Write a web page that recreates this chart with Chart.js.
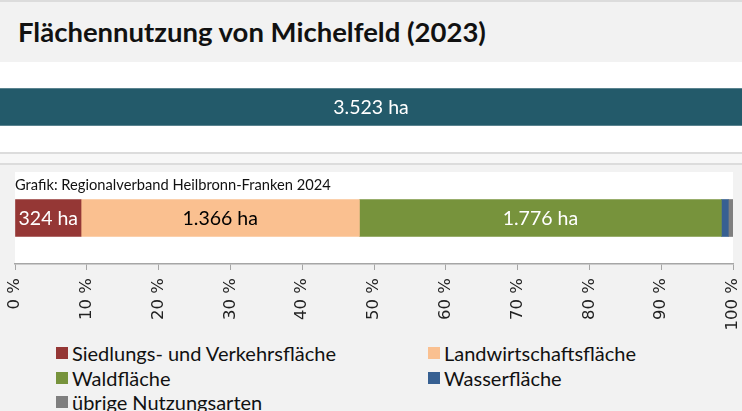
<!DOCTYPE html>
<html lang="de">
<head>
<meta charset="utf-8">
<title>Flächennutzung von Michelfeld (2023)</title>
<script src="https://cdn.jsdelivr.net/npm/chart.js@4/dist/chart.umd.min.js"></script>
<style>
  html, body { margin: 0; padding: 0; }
  body { width: 742px; height: 411px; background: #f2f2f2; position: relative; overflow: hidden; font-family: Lato, "Open Sans", sans-serif; }
  .head { position: absolute; left: 0; top: 0; width: 742px; height: 62px; border-top: 2px solid #dcdcdc; box-sizing: border-box; }
  .head h1 { position: absolute; left: 18px; top: 16px; margin: 0; font-size: 27.5px; line-height: 1; font-weight: 700; color: #111; }
  #totalBox { position: absolute; left: 0; top: 62px; width: 742px; height: 90px; background: #fff; }
  .rule { position: absolute; left: 0; width: 742px; height: 2px; background: #dcdcdc; }
  .gap { position: absolute; left: 0; top: 154px; width: 742px; height: 9px; background: #f7f7f7; }
  #mainBox { position: absolute; left: 0; top: 165px; width: 742px; height: 170px; }
  #legend { position: absolute; left: 56px; top: 341px; display: grid; grid-template-columns: 372px 250px; grid-auto-rows: 24.5px; font-size: 20px; color: #111; }
  #legend div { display: flex; align-items: center; white-space: nowrap; }
  #legend span { display: inline-block; width: 12px; height: 12px; margin-right: 4px; }
</style>
</head>
<body>
<div class="head"><h1>Flächennutzung von Michelfeld (2023)</h1></div>
<div id="totalBox"><canvas id="totalChart" width="742" height="90"></canvas></div>
<div class="rule" style="top:152px"></div>
<div class="gap"></div>
<div class="rule" style="top:163px"></div>
<div id="mainBox"><canvas id="mainChart" width="742" height="170"></canvas></div>
<div id="legend"></div>

<script>
// Flächen in ha (2023)
const categories = ['Siedlungs- und Verkehrsfläche', 'Landwirtschaftsfläche', 'Waldfläche', 'Wasserfläche', 'übrige Nutzungsarten'];
const areaHa = [324, 1366, 1776, 34, 23];
const colors = ['#953735', '#fac090', '#77933c', '#376092', '#7f7f7f'];
const labelColors = ['#fff', '#000', '#fff', null, null];
const totalHa = 3523;
const percentTicks = [0, 10, 20, 30, 40, 50, 60, 70, 80, 90, 100];
const sourceNote = 'Grafik: Regionalverband Heilbronn-Franken 2024';

const labelFont = '19.5px Lato, "Open Sans", sans-serif';

function formatHa(n) {
  return String(n).replace(/\B(?=(\d{3})+(?!\d))/g, '.') + ' ha';
}

// writes the ha value into the middle of each bar
const barLabels = {
  id: 'barLabels',
  afterDatasetsDraw(chart) {
    const ctx = chart.ctx;
    ctx.save();
    ctx.font = labelFont;
    ctx.textAlign = 'center';
    ctx.textBaseline = 'middle';
    chart.data.datasets.forEach((ds, i) => {
      if (!ds.labelColor) return;
      const bar = chart.getDatasetMeta(i).data[0];
      ctx.fillStyle = ds.labelColor;
      ctx.fillText(formatHa(ds.data[0]), (bar.x + bar.base) / 2, bar.y + 1);
    });
    ctx.restore();
  }
};

// white panel behind the stacked bar plus the source line
const panel = {
  id: 'panel',
  beforeDraw(chart) {
    const { ctx, chartArea: a } = chart;
    ctx.save();
    ctx.fillStyle = '#fff';
    ctx.fillRect(a.left, a.top, a.right - a.left, a.bottom - a.top);
    ctx.fillStyle = '#111';
    ctx.font = '14.7px Lato, "Open Sans", sans-serif';
    ctx.textBaseline = 'middle';
    ctx.fillText(sourceNote, a.left, a.top + 13);
    ctx.restore();
  }
};

new Chart(document.getElementById('totalChart'), {
  type: 'bar',
  data: {
    labels: ['Gesamt'],
    datasets: [{ data: [totalHa], backgroundColor: '#235a6a', borderWidth: 0, barThickness: 37, labelColor: '#fff' }]
  },
  options: {
    indexAxis: 'y',
    responsive: false,
    animation: false,
    layout: { padding: 0 },
    plugins: { legend: { display: false }, tooltip: { enabled: false } },
    scales: {
      x: { display: false, min: 0, max: totalHa },
      y: { display: false }
    }
  },
  plugins: [barLabels]
});

new Chart(document.getElementById('mainChart'), {
  type: 'bar',
  data: {
    labels: ['Michelfeld'],
    datasets: categories.map((c, i) => ({
      label: c,
      data: [areaHa[i]],
      backgroundColor: colors[i],
      borderWidth: 0,
      barThickness: 37,
      labelColor: labelColors[i]
    }))
  },
  options: {
    indexAxis: 'y',
    responsive: false,
    animation: false,
    layout: { padding: { left: 15, right: 9, top: 7, bottom: 0 } },
    plugins: { legend: { display: false }, tooltip: { enabled: false } },
    scales: {
      x: {
        stacked: true,
        min: 0,
        max: totalHa,
        afterBuildTicks(scale) {
          scale.ticks = percentTicks.map(p => ({ value: totalHa * p / 100 }));
        },
        afterFit(scale) {
          scale.height = 71;
          // rotated labels fit inside the outer padding already
          scale.paddingLeft = 0;
          scale.paddingRight = 0;
        },
        grid: { drawOnChartArea: false, drawTicks: true, tickLength: 6, color: '#a6a6a6' },
        border: { display: true, color: '#a6a6a6', width: 1.5 },
        ticks: {
          autoSkip: false,
          minRotation: 90,
          maxRotation: 90,
          padding: 8,
          color: '#222',
          font: { family: 'DejaVu Sans', size: 16.5 },
          callback: v => Math.round(v / totalHa * 100) + ' %'
        }
      },
      y: { stacked: true, display: false }
    }
  },
  plugins: [panel, barLabels]
});

// legend, two columns
const legend = document.getElementById('legend');
categories.forEach((c, i) => {
  const item = document.createElement('div');
  const box = document.createElement('span');
  box.style.background = colors[i];
  item.appendChild(box);
  item.appendChild(document.createTextNode(c));
  legend.appendChild(item);
});
</script>
</body>
</html>
